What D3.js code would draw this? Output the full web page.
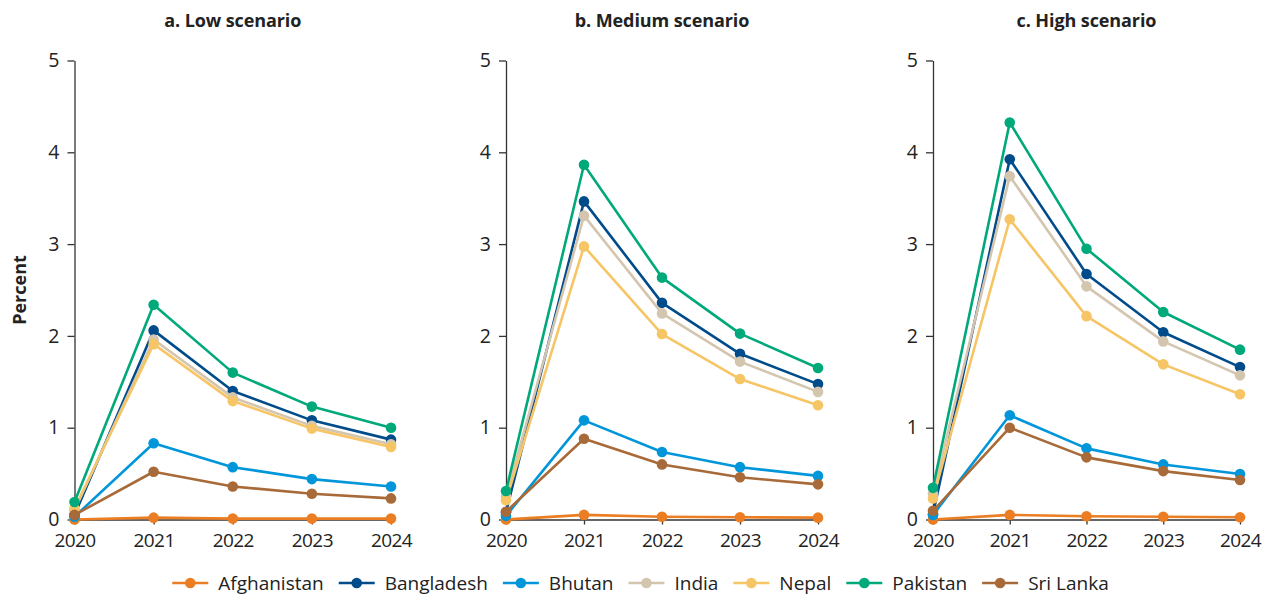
<!DOCTYPE html>
<html>
<head>
<meta charset="utf-8">
<script src="https://cdn.jsdelivr.net/npm/d3@7"></script>
<style>
  html, body { margin: 0; padding: 0; background: #fff; }
  svg { display: block; font-family: "Open Sans", "Noto Sans", sans-serif; }
</style>
</head>
<body>
<svg id="chart" width="1280" height="595"></svg>
<script>
// Years on the x axis
const years = [2020, 2021, 2022, 2023, 2024];
const yTicks = [0, 1, 2, 3, 4, 5];
const countries = ["Afghanistan", "Bangladesh", "Bhutan", "India", "Nepal", "Pakistan", "Sri Lanka"];
const colors = ["#eb7d23", "#004c8b", "#0096d9", "#d4c5af", "#f6c566", "#00a97a", "#a86a38"];
const panelTitles = ["a. Low scenario", "b. Medium scenario", "c. High scenario"];

// Percent, per country, per scenario (2020..2024)
const lowScenario = [
  [0.00, 0.02, 0.01, 0.01, 0.01],   // Afghanistan
  [0.05, 2.06, 1.40, 1.08, 0.87],   // Bangladesh
  [0.03, 0.83, 0.57, 0.44, 0.36],   // Bhutan
  [0.10, 1.96, 1.33, 1.02, 0.82],   // India
  [0.12, 1.91, 1.29, 0.99, 0.79],   // Nepal
  [0.19, 2.34, 1.60, 1.23, 1.00],   // Pakistan
  [0.05, 0.52, 0.36, 0.28, 0.23]    // Sri Lanka
];
const mediumScenario = [
  [0.00, 0.05, 0.03, 0.025, 0.02],
  [0.08, 3.465, 2.36, 1.805, 1.475],
  [0.04, 1.08, 0.735, 0.57, 0.475],
  [0.25, 3.31, 2.245, 1.72, 1.39],
  [0.21, 2.975, 2.02, 1.53, 1.245],
  [0.31, 3.865, 2.635, 2.025, 1.65],
  [0.085, 0.88, 0.60, 0.46, 0.383]
];
const highScenario = [
  [0.00, 0.05, 0.035, 0.03, 0.025],
  [0.06, 3.925, 2.675, 2.04, 1.66],
  [0.05, 1.135, 0.775, 0.60, 0.495],
  [0.28, 3.74, 2.54, 1.94, 1.57],
  [0.23, 3.27, 2.215, 1.69, 1.365],
  [0.345, 4.325, 2.95, 2.26, 1.85],
  [0.095, 1.00, 0.677, 0.527, 0.43]
];
const scenarios = [lowScenario, mediumScenario, highScenario];

const svg = d3.select("#chart");
const axisColor = "#333";
const textColor = "#222";

// Plot-area horizontal extents of the three panels
const panels = [
  { x0: 74.5, x1: 391 },
  { x0: 506, x1: 818 },
  { x0: 933, x1: 1240 }
];
const yTop = 60.5, yBottom = 519.5;

const y = d3.scaleLinear().domain([0, 5]).range([yBottom, yTop]);

panels.forEach((p, pi) => {
  const x = d3.scalePoint().domain(years).range([p.x0, p.x1]);
  const g = svg.append("g");

  // Panel title
  g.append("text")
    .attr("x", (p.x0 + p.x1) / 2)
    .attr("y", 27)
    .attr("text-anchor", "middle")
    .attr("font-size", 18)
    .attr("font-weight", 700)
    .attr("letter-spacing", "-0.1")
    .attr("fill", textColor)
    .text(panelTitles[pi]);

  // Y axis
  const yAxis = g.append("g")
    .attr("transform", `translate(${p.x0},0)`)
    .call(d3.axisLeft(y).tickValues(yTicks).tickFormat(d3.format("d")).tickSize(7).tickSizeOuter(0).tickPadding(8));
  yAxis.select(".domain").attr("stroke", axisColor).attr("stroke-width", 1.3);
  yAxis.selectAll(".tick line").attr("stroke", axisColor).attr("stroke-width", 1.3);
  yAxis.selectAll(".tick text").attr("font-size", 19.5).attr("fill", textColor)
    .attr("font-family", "'Open Sans', sans-serif");

  // X axis
  const xAxis = g.append("g")
    .attr("transform", `translate(0,${yBottom})`)
    .call(d3.axisBottom(x).tickSize(5).tickSizeOuter(0).tickPadding(9));
  xAxis.select(".domain").attr("stroke", axisColor).attr("stroke-width", 1.3);
  xAxis.selectAll(".tick line").attr("stroke", axisColor).attr("stroke-width", 1.3);
  xAxis.selectAll(".tick text").attr("font-size", 19).attr("fill", textColor)
    .attr("letter-spacing", "-0.6")
    .attr("font-family", "'Open Sans', sans-serif");

  // Series lines and markers
  const line = d3.line().x((d, i) => x(years[i])).y(d => y(d));
  const data = scenarios[pi];
  countries.forEach((c, ci) => {
    const s = g.append("g");
    s.append("path")
      .datum(data[ci])
      .attr("d", line)
      .attr("fill", "none")
      .attr("stroke", colors[ci])
      .attr("stroke-width", 2.6)
      .attr("stroke-linejoin", "round");
    s.selectAll("circle")
      .data(data[ci])
      .join("circle")
      .attr("cx", (d, i) => x(years[i]))
      .attr("cy", d => y(d))
      .attr("r", 5.3)
      .attr("fill", colors[ci]);
  });
});

// Y axis title
svg.append("text")
  .attr("transform", "translate(26,290) rotate(-90)")
  .attr("text-anchor", "middle")
  .attr("font-size", 18)
  .attr("font-weight", 700)
  .attr("fill", textColor)
  .text("Percent");

// Legend
const legend = svg.append("g").attr("transform", "translate(0,583)");
const items = legend.selectAll("g").data(countries).join("g");
items.append("line")
  .attr("x1", 0).attr("x2", 36).attr("y1", 0).attr("y2", 0)
  .attr("stroke", (d, i) => colors[i]).attr("stroke-width", 2.6);
items.append("circle")
  .attr("cx", 18).attr("cy", 0).attr("r", 5.3)
  .attr("fill", (d, i) => colors[i]);
items.append("text")
  .attr("x", 46).attr("y", 0).attr("dy", "0.35em")
  .attr("font-size", 19)
  .attr("fill", textColor)
  .text(d => d);

// Lay out legend items left to right, then centre the row
const gap = 15;
let cursor = 0;
items.each(function () {
  const w = this.getBBox().width;
  d3.select(this).attr("transform", `translate(${cursor},0)`);
  cursor += w + gap;
});
const total = cursor - gap;
legend.attr("transform", `translate(${640.5 - total / 2},583)`);
</script>
</body>
</html>
